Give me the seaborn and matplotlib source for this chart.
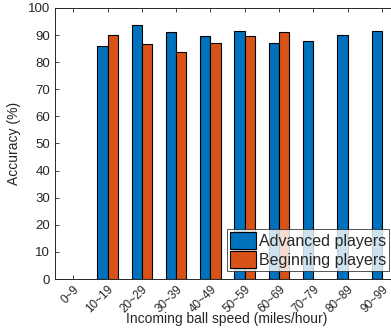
import matplotlib
matplotlib.use('Agg')
import matplotlib.pyplot as plt
import seaborn as sns
import numpy as np
import pandas as pd

speeds = ['0~9', '10~19', '20~29', '30~39', '40~49', '50~59', '60~69', '70~79', '80~89', '90~99']
advanced = [np.nan, 86.0, 93.7, 91.2, 89.8, 91.4, 86.9, 87.9, 90.0, 91.5]
beginning = [np.nan, 90.0, 86.8, 83.6, 87.1, 89.6, 91.1, np.nan, np.nan, np.nan]
groups = ['Advanced players', 'Beginning players']

sns.set_theme(style='white')
plt.rcParams['font.family'] = ['Liberation Sans', 'DejaVu Sans']

df = pd.DataFrame({
    'speed': speeds * 2,
    'acc': advanced + beginning,
    'group': [groups[0]] * len(speeds) + [groups[1]] * len(speeds),
})
df = df.dropna()

fig = plt.figure(figsize=(3.91, 3.31), dpi=100)
ax = fig.add_axes([0.1407, 0.157, 0.88, 0.819])
sns.barplot(data=df, x='speed', y='acc', hue='group', order=speeds, hue_order=groups,
            palette=['#0072BD', '#D95319'], width=0.6, edgecolor='black', linewidth=0.8,
            saturation=1, ax=ax)

ax.set_xlim(-0.53, 9.5)
ax.set_ylim(0, 100)
ax.set_yticks(range(0, 101, 10))
ax.set_xlabel('Incoming ball speed (miles/hour)', fontsize=10, color='#262626', labelpad=-2)
ax.set_ylabel('Accuracy (%)', fontsize=10, color='#262626', labelpad=5)
ax.tick_params(axis='both', labelsize=9.5, colors='#262626', direction='in', length=3,
               top=True, right=True, bottom=True, left=True, width=0.6)
ax.tick_params(axis='x', labelsize=8.5, pad=3)
plt.setp(ax.get_xticklabels(), rotation=45, ha='right', rotation_mode='anchor')
for s in ax.spines.values():
    s.set_color('#262626')
    s.set_linewidth(0.7)

leg = ax.legend(loc='lower right', bbox_to_anchor=(0.972, 0.03), fontsize=11.5, frameon=True,
                fancybox=False, edgecolor='#262626', borderpad=0.2, handlelength=1.6,
                handleheight=1.2, handletextpad=0.2, labelspacing=0.15, borderaxespad=0)
leg.get_frame().set_linewidth(0.7)

fig.savefig('out.png', dpi=100)
